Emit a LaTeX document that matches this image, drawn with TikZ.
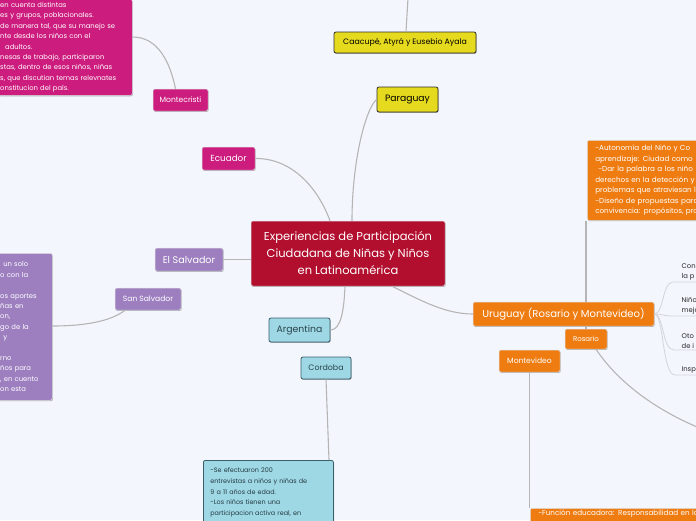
\documentclass[tikz,border=0pt]{standalone}
\usepackage{fontspec}
\setmainfont{Poppins}
\usetikzlibrary{shadows}
\definecolor{bg}{HTML}{F3F6FD}
\definecolor{cred}{HTML}{B20E2E}
\definecolor{cyel}{HTML}{E6DA1E}
\definecolor{cmag}{HTML}{CC1C7E}
\definecolor{cpur}{HTML}{9D7FC0}
\definecolor{cblu}{HTML}{9FD8E5}
\definecolor{cora}{HTML}{EF7C11}
\definecolor{cline}{HTML}{B5B5B5}
\definecolor{cline2}{HTML}{D2D4DA}
\definecolor{cdark}{HTML}{2E2E2E}
\definecolor{cteal}{HTML}{3B5F6A}
\begin{document}
\begin{tikzpicture}[x=1pt,y=-1pt,
  box/.style={rounded corners=2pt, inner sep=0pt, align=center,
    drop shadow={shadow xshift=0.6pt,shadow yshift=-0.9pt,opacity=0.3,fill=black}},
  lightbox/.style={box, draw=white!75!gray, line width=0.5pt, text=white},
  darkbox/.style={box, draw=cdark, line width=0.8pt, text=black},
  txtbox/.style={rounded corners=2pt, align=left, draw=white!75!gray, line width=0.5pt,
    font=\fontsize{6.8}{10.4}\selectfont,
    drop shadow={shadow xshift=0.6pt,shadow yshift=-0.9pt,opacity=0.3,fill=black}},
  conn/.style={draw=cline, line width=1.1pt},
  conn2/.style={draw=cline2, line width=0.8pt},
  item/.style={anchor=south west, inner sep=1.5pt, align=left, text=black!85,
    font=\fontsize{6.8}{10}\selectfont}
]
\useasboundingbox (0,0) rectangle (696,520);
\clip (0,0) rectangle (696,520);
\fill[bg] (0,0) rectangle (696,520);

% nodes
\node[lightbox, fill=cred, minimum width=194pt, minimum height=65pt,
  font=\fontsize{11.5}{17}\selectfont] (central) at (348,253.5)
  {Experiencias de Participación\\Ciudadana de Niñas y Niños\\en Latinoamérica};
\node[darkbox, fill=cyel, minimum width=61pt, minimum height=25pt,
  font=\fontsize{9.2}{10}\selectfont] (paraguay) at (407.5,99.5) {Paraguay};
\node[darkbox, fill=cyel, minimum width=142pt, minimum height=21pt,
  font=\fontsize{7.8}{9}\selectfont] (caacupe) at (405,42.5) {Caacupé, Atyrá y Eusebio Ayala};
\node[lightbox, fill=cmag, minimum width=53pt, minimum height=23pt,
  font=\fontsize{8.8}{9}\selectfont] (ecuador) at (228.5,158.5) {Ecuador};
\node[lightbox, fill=cmag, minimum width=55pt, minimum height=22pt,
  font=\fontsize{7.6}{8}\selectfont] (montecristi) at (180.5,100) {Montecristi};
\node[lightbox, fill=cpur, minimum width=68pt, minimum height=23pt,
  font=\fontsize{9.6}{10}\selectfont] (elsalvador) at (189,259.5) {El Salvador};
\node[lightbox, fill=cpur, minimum width=66pt, minimum height=22pt,
  font=\fontsize{7.6}{8}\selectfont] (sansalvador) at (148,299) {San Salvador};
\node[box, draw=cteal, line width=0.8pt, text=cteal!70!black, fill=cblu, minimum width=61pt, minimum height=24pt,
  font=\fontsize{9.3}{10}\selectfont] (argentina) at (299.5,330) {Argentina};
\node[box, draw=cteal, line width=0.8pt, text=cteal!70!black, fill=cblu, minimum width=50pt, minimum height=22pt,
  font=\fontsize{7.9}{8}\selectfont] (cordoba) at (326,368) {Cordoba};
\node[lightbox, fill=cora, minimum width=181pt, minimum height=24pt,
  font=\fontsize{10.1}{11}\selectfont] (uruguay) at (563.5,314) {Uruguay (Rosario y Montevideo)};
\node[lightbox, fill=cora, minimum width=42pt, minimum height=20pt,
  font=\fontsize{7}{8}\selectfont] (rosario) at (586,339) {Rosario};
\node[lightbox, fill=cora, minimum width=61pt, minimum height=22pt,
  font=\fontsize{7.6}{8}\selectfont] (montevideo) at (529.5,361) {Montevideo};

% text boxes
\node[txtbox, fill=cmag, text=white, anchor=north west, text width=130pt,
  inner xsep=2pt, inner ysep=3pt] (pinkbox) at (-2,-1)
  {en cuenta distintas\\es y grupos, poblacionales.\\de manera tal, que su manejo se\\nte desde los niños con el\\\hspace*{5pt}adultos.\\nesas de trabajo, participaron\\stas, dentro de esos niños, niñas\\s, que discutian temas relevnates\\onstitucion del país.};
\node[txtbox, fill=cpur, text=white, anchor=north west, text width=50pt,
  inner xsep=2pt, inner ysep=4pt, minimum height=147pt] (purplebox) at (-2,253)
  {\hspace*{3pt}un solo\\o con la\\\mbox{}\\os aportes\\ñas en\\on,\\go de la\\\hspace*{3pt}y\\\mbox{}\\rno\\ños para\\, en cuento\\on esta};
\node[txtbox, fill=cblu, draw=cteal, line width=0.8pt, text=cteal!60!black, anchor=north west, text width=116pt,
  inner xsep=7pt, inner ysep=7.5pt, font=\fontsize{6.4}{10.7}\selectfont] (bluebox) at (203,460)
  {-Se efectuaron 200\\entrevistas a niños y niñas de\\9 a 11 años de edad.\\-Los niños tienen una\\participacion activa real, en\\\mbox{}\\\mbox{}};
\node[txtbox, fill=cora, text=white, anchor=north west, text width=150pt,
  inner xsep=8pt, inner ysep=3pt, minimum height=80pt, font=\fontsize{7.2}{10.5}\selectfont] (orangebox) at (587,140)
  {-Autonomía del Niño y Co\\aprendizaje: Ciudad como\\\hspace*{3pt}-Dar la palabra a los niño\\derechos en la detección y\\problemas que atraviesan l\\-Diseño de propuestas para\\convivencia: propósitos, pro};
\node[txtbox, fill=cora, text=white, anchor=north west, text width=200pt,
  inner xsep=8pt, inner ysep=2pt, font=\fontsize{7.2}{10.5}\selectfont] (orangebox2) at (530,508)
  {-Función educadora: Responsabilidad en la\\\mbox{}};

% right items
\node[item] (item1) at (680,282) {Con\\la p};
\node[item] (item2) at (680,316) {Niño\\mejo};
\node[item] (item3) at (680,350) {Oto\\de i};
\node[item] (item4) at (680,375) {Inspi};
\coordinate (e1) at (700,282);
\coordinate (e2) at (700,316);
\coordinate (e3) at (700,350);
\coordinate (e4) at (700,375);
\coordinate (ctop) at (408,-2);
\coordinate (rend) at (702,429);

% connectors
\draw[conn] ([xshift=1pt]caacupe.north) -- (ctop);
\draw[conn] (paraguay.west) .. controls (366,108) and (352,160) .. ([xshift=4pt]central.north);
\draw[conn] (ecuador.east) .. controls (292,158) and (318,188) .. ([xshift=-18pt]central.north);
\draw[conn] ([xshift=-5pt]montecristi.north) .. controls (170,62) and (158,37) .. (pinkbox.east |- 0,37);
\draw[conn] (elsalvador.east) -- (central.west |- elsalvador.east);
\draw[conn] ([xshift=-23pt]sansalvador.south) .. controls (110,322) and (82,326) .. (purplebox.east |- 0,326);
\draw[conn] (argentina.east) .. controls (341,330) and (344,310) .. ([xshift=-3pt]central.south);
\draw[conn] (cordoba.south) -- ([xshift=3pt]cordoba.south |- bluebox.north);
\draw[conn] ([xshift=44pt]central.south) .. controls (420,300) and (445,314) .. (uruguay.west);
\draw[conn] ([xshift=22.5pt]uruguay.north) -- ([xshift=22.5pt]uruguay.north |- orangebox.south);
\draw[conn] (uruguay.south -| rosario.north) -- (rosario.north);
\draw[conn] ([xshift=10pt]rosario.south) .. controls (620,385) and (660,412) .. (rend);
\draw[conn] (montevideo.south) -- (montevideo.south |- orangebox2.north);
\draw[conn2] (uruguay.east) .. controls (664,314) and (662,282) .. (673,282) -- (item1.south west) -- (e1);
\draw[conn2] (uruguay.east) .. controls (662,314) and (664,316) .. (673,316) -- (item2.south west) -- (e2);
\draw[conn2] (uruguay.east) .. controls (664,314) and (662,350) .. (674,350) -- (item3.south west) -- (e3);
\draw[conn2] (uruguay.east) .. controls (664,314) and (662,375) .. (675,375) -- (item4.south west) -- (e4);
\end{tikzpicture}
\end{document}
